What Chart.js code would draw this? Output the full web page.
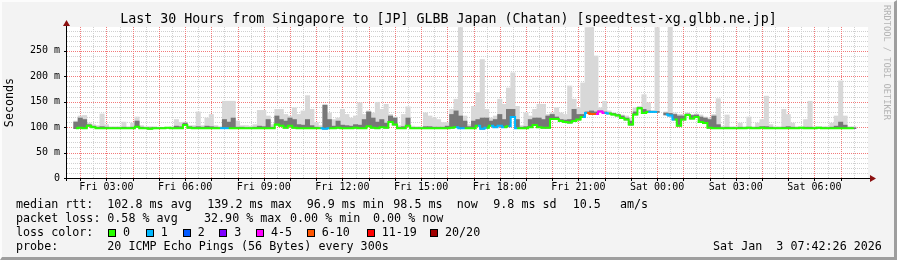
<!DOCTYPE html>
<html>
<head>
<meta charset="utf-8">
<script src="https://cdn.jsdelivr.net/npm/chart.js@4/dist/chart.umd.min.js"></script>
<style>
body { margin: 0; background: #fff; }
#wrap { position: relative; width: 897px; height: 260px; background: #f3f3f3; overflow: hidden; }
#chart { position: absolute; left: 0; top: 0; }
#frame { position: absolute; left: 0; top: 0; width: 897px; height: 260px; box-sizing: border-box;
  border-top: 2px solid #fcfcfc; border-left: 2px solid #fcfcfc;
  border-right: 3px solid #9e9e9e; border-bottom: 3px solid #9e9e9e; pointer-events: none; }
#title { position: absolute; left: 0; top: 12px; width: 897px; text-align: center;
  font: 13.3px 'DejaVu Sans Mono', monospace; line-height: 14px; white-space: pre; color: #000; }
#brand { position: absolute; left: 882px; top: 5px; writing-mode: vertical-rl;
  font: 8.7px 'DejaVu Sans Mono', monospace; line-height: 10px; color: #b4b4b4; white-space: pre; }
.t { position: absolute; font: 11.7px 'DejaVu Sans Mono', monospace; line-height: 14px; white-space: pre; color: #000; }
.sq { position: absolute; top: 228.5px; width: 6px; height: 6px; border: 1px solid #000; }
</style>
</head>
<body>
<div id="wrap">
  <canvas id="chart" width="897" height="260"></canvas>
  <div id="title">Last 30 Hours from Singapore to [JP] GLBB Japan (Chatan) [speedtest-xg.glbb.ne.jp]</div>
  <div id="brand">RRDTOOL / TOBI OETIKER</div>

  <div class="t" style="left:16px;top:196.7px">median rtt:</div>
  <div class="t" style="left:107.3px;top:196.7px">102.8 ms avg</div>
  <div class="t" style="left:207.3px;top:196.7px">139.2 ms max</div>
  <div class="t" style="left:306.7px;top:196.7px">96.9 ms min</div>
  <div class="t" style="left:393.3px;top:196.7px">98.5 ms</div>
  <div class="t" style="left:456.7px;top:196.7px">now</div>
  <div class="t" style="left:493.3px;top:196.7px">9.8 ms sd</div>
  <div class="t" style="left:572.7px;top:196.7px">10.5</div>
  <div class="t" style="left:620px;top:196.7px">am/s</div>

  <div class="t" style="left:16px;top:210.7px">packet loss:</div>
  <div class="t" style="left:107.3px;top:210.7px">0.58 % avg</div>
  <div class="t" style="left:204px;top:210.7px">32.90 % max</div>
  <div class="t" style="left:290px;top:210.7px">0.00 % min</div>
  <div class="t" style="left:373px;top:210.7px">0.00 % now</div>

  <div class="t" style="left:16px;top:224.7px">loss color:</div>
  <div id="lossKey"></div>

  <div class="t" style="left:16px;top:238.7px">probe:</div>
  <div class="t" style="left:107.3px;top:238.7px">20 ICMP Echo Pings (56 Bytes) every 300s</div>
  <div class="t" style="left:713px;top:238.7px">Sat Jan  3 07:42:26 2026</div>

  <div id="frame"></div>
</div>
<script>
// 10 minute slots, 30 hours starting Fri 01:45 (180 slots)
const slotsPerHour = 6;

// median rtt (ms)
const med = [
  98, 99, 98, 103, 100, 98, 98, 98, 98, 98, 98, 98,
  98, 98, 101, 98, 98, 97, 98, 98, 98, 99, 98, 98,
  98, 104, 99, 98, 98, 98, 98, 98, 98, 98, 98, 98,
  98, 98, 98, 98, 98, 98, 98, 98, 98, 98, 105, 103,
  99, 103, 99, 98, 98, 98, 98, 98, 98, 97, 98, 98,
  99, 98, 98, 98, 99, 98, 98, 102, 99, 98, 100, 99,
  110, 105, 98, 98, 103, 98, 98, 98, 98, 98, 98, 98,
  98, 98, 99, 100, 98, 98, 98, 98, 103, 97, 99, 103,
  100, 103, 100, 102, 120, 98, 98, 98, 100, 104, 100, 99,
  99, 116, 116, 112, 110, 109, 112, 115, 120, 128, 126, 126,
  131, 128, 127, 125, 123, 118, 115, 105, 125, 137, 128, 130,
  130, 130, null, 125, 123, 115, 103, 115, 124, 117, 120, 110,
  108, 99, 98, 98, 98, 98, 98, 98, 98, 98, 99, 98,
  98, 99, 98, 98, 98, 98, 98, 98, 98, 98, 99, 98,
  98, 98, 99, 98, 98, 98, 98, 98, 98, 98, 98, null
];

// top of the dark smoke (ms)
const darkTop = [
  110, 118, 115, 105, 102, 100, 101, 100, 99, 99, 99, 100,
  99, 100, 112, 100, 99, 99, 99, 99, 99, 99, 99, 102,
  101, 108, 101, 100, 101, 100, 102, 101, 100, 99, 115, 110,
  118, 100, 100, 99, 99, 100, 102, 101, 115, 100, 122, 115,
  112, 118, 115, 105, 104, 115, 103, 100, 99, 143, 115, 102,
  112, 104, 103, 102, 105, 104, 115, 130, 118, 110, 115, 108,
  122, 118, 100, 101, 118, 99, 99, 99, 101, 101, 100, 100,
  100, 102, 125, 132, 122, 112, 101, 112, 115, 118, 118, 112,
  115, 125, 115, 135, 135, 115, 100, 101, 115, 118, 118, 115,
  122, 125, 120, 115, 114, 115, 135, 125, 125, 130, 132, 130,
  132, 130, 128, 127, 125, 122, 118, 112, 130, 139, 135, 132,
  131, 131, null, 128, 127, 125, 122, 122, 126, 123, 124, 120,
  118, 115, 122, 105, 99, 100, 99, 99, 100, 99, 100, 99,
  100, 101, 101, 100, 99, 99, 100, 101, 100, 99, 99, 100,
  100, 99, 99, 99, 99, 100, 102, 110, 104, 99, 99, null
];

// top of the light smoke (ms)
const lightTop = [
  112, 122, 123, 108, 105, 103, 126, 105, 101, 101, 101, 110,
  101, 108, 120, 103, 101, 101, 101, 100, 100, 100, 101, 115,
  109, 110, 103, 103, 130, 103, 118, 125, 103, 101, 151, 151,
  151, 112, 103, 103, 102, 105, 133, 133, 122, 105, 135, 135,
  125, 122, 138, 125, 132, 162, 135, 109, 103, 145, 128, 115,
  118, 135, 125, 118, 122, 148, 125, 132, 128, 149, 135, 145,
  125, 120, 103, 125, 140, 102, 101, 101, 128, 122, 118, 115,
  109, 109, 135, 155, 296, 122, 105, 141, 168, 233, 135, 118,
  122, 155, 145, 177, 207, 141, 103, 128, 122, 135, 145, 145,
  125, 128, 138, 128, 125, 181, 155, 138, 187, 296, 296, 240,
  138, 151, 132, 128, 126, 124, 122, 118, 138, 141, 164, 148,
  133, 296, null, 130, 299, 128, 125, 125, 128, 125, 126, 124,
  120, 118, 125, 156, 102, 124, 101, 101, 108, 101, 120, 101,
  108, 115, 161, 105, 101, 101, 135, 125, 108, 101, 101, 115,
  151, 101, 101, 101, 101, 108, 122, 191, 122, 101, 101, null
];

// lost pings out of 20
const loss = [
  0, 0, 0, 0, 0, 0, 0, 0, 0, 0, 0, 0,
  0, 0, 0, 0, 0, 0, 0, 0, 0, 0, 0, 0,
  0, 0, 0, 0, 0, 0, 0, 0, 0, 0, 1, 0,
  0, 0, 0, 0, 0, 0, 0, 0, 0, 0, 0, 0,
  0, 0, 0, 0, 0, 0, 0, 0, 0, 1, 0, 0,
  0, 0, 0, 0, 0, 0, 0, 0, 0, 0, 0, 0,
  0, 0, 0, 0, 0, 0, 0, 0, 0, 0, 0, 0,
  0, 0, 0, 0, 1, 0, 0, 0, 0, 1, 0, 0,
  1, 1, 0, 0, 1, 0, 0, 0, 0, 0, 0, 0,
  0, 0, 0, 0, 0, 0, 0, 0, 0, 1, 7, 4,
  4, 1, 0, 0, 0, 0, 0, 0, 0, 0, 0, 0,
  1, 1, 0, 0, 1, 0, 0, 0, 0, 0, 0, 0,
  0, 0, 0, 0, 0, 0, 0, 0, 0, 0, 0, 0,
  0, 0, 0, 0, 0, 0, 0, 0, 0, 0, 0, 0,
  0, 0, 0, 0, 0, 0, 0, 0, 0, 0, 0, 0
];

const xLabels = ['Fri 03:00', 'Fri 06:00', 'Fri 09:00', 'Fri 12:00', 'Fri 15:00',
                 'Fri 18:00', 'Fri 21:00', 'Sat 00:00', 'Sat 03:00', 'Sat 06:00'];
const yLabels = ['0', '50 m', '100 m', '150 m', '200 m', '250 m'];

const lossNames = ['0', '1', '2', '3', '4-5', '6-10', '11-19', '20/20'];
const lossColors = ['#26ff00', '#00b8ff', '#0059ff', '#7e00ff', '#ff00ff', '#ff5500', '#ff0000', '#a10000'];
const keySquareX = [108, 145.7, 182.7, 219.3, 256, 306.7, 366.7, 430];

function lossColor(n) {
    if (n >= 20) return lossColors[7];
    if (n >= 11) return lossColors[6];
    if (n >= 6) return lossColors[5];
    if (n >= 4) return lossColors[4];
    return lossColors[n];
}

// legend squares
const key = document.getElementById('lossKey');
lossNames.forEach((name, i) => {
    const sq = document.createElement('div');
    sq.className = 'sq';
    sq.style.left = keySquareX[i] + 'px';
    sq.style.background = lossColors[i];
    key.appendChild(sq);
    const lab = document.createElement('div');
    lab.className = 't';
    lab.style.left = (keySquareX[i] + 15) + 'px';
    lab.style.top = '224.7px';
    lab.textContent = name;
    key.appendChild(lab);
});

const slotX = i => (i + 0.5) / slotsPerHour;
const lightBars = [];
const darkBars = [];
med.forEach((m, i) => {
    if (m == null) return;
    lightBars.push({ x: slotX(i), y: [m - 1, lightTop[i]] });
    darkBars.push({ x: slotX(i), y: [m - 1, darkTop[i]] });
});
const medPoints = med.map((m, i) => ({ x: slotX(i), y: m }));

const xTicks = [];
for (let v = 0.25; v < 30; v += 0.5) xTicks.push(v);
const yTicks = [];
for (let v = 0; v <= 290; v += 10) yTicks.push(v);

const isHour = v => Math.abs((v - 0.25) - Math.round(v - 0.25)) < 1e-6;
const isMajorY = v => Math.abs(v / 50 - Math.round(v / 50)) < 1e-6;
const mono = "'DejaVu Sans Mono'";
const majorGrid = '#f27a7a';
const minorGrid = '#d0d0d0';

// rrdtool style dotted grid, plus axes with arrows
const axes = {
    id: 'axes',
    beforeDraw(chart) {
        const { ctx, chartArea: a } = chart;
        ctx.save();
        ctx.fillStyle = '#fff';
        ctx.fillRect(a.left, a.top, a.right - a.left + 1, a.bottom - a.top);
        ctx.restore();
    },
    beforeDatasetsDraw(chart) {
        const { ctx, chartArea: a, scales: { x, y } } = chart;
        ctx.save();
        ctx.lineWidth = 1;
        ctx.setLineDash([1, 1]);
        [false, true].forEach(major => {
            ctx.strokeStyle = major ? majorGrid : minorGrid;
            ctx.beginPath();
            xTicks.forEach(v => {
                if (isHour(v) !== major) return;
                const px = Math.round(x.getPixelForValue(v)) + 0.5;
                ctx.moveTo(px, a.bottom);
                ctx.lineTo(px, a.top);
            });
            yTicks.forEach(v => {
                if (v === 0 || isMajorY(v) !== major) return;
                const py = Math.round(y.getPixelForValue(v)) + 0.5;
                ctx.moveTo(a.left, py);
                ctx.lineTo(a.right + 1, py);
            });
            ctx.stroke();
        });
        ctx.restore();
    },
    afterDraw(chart) {
        const { ctx, chartArea: a, scales: { x, y } } = chart;
        ctx.save();
        ctx.strokeStyle = '#000';
        ctx.lineWidth = 1;
        ctx.beginPath();
        ctx.moveTo(a.left - 3, a.bottom + 0.5);
        ctx.lineTo(a.right + 5, a.bottom + 0.5);
        ctx.moveTo(a.left - 0.5, a.bottom + 3);
        ctx.lineTo(a.left - 0.5, a.top - 3);
        xTicks.forEach(v => {
            if (!isHour(v)) return;
            const px = Math.round(x.getPixelForValue(v)) + 0.5;
            ctx.moveTo(px, a.bottom);
            ctx.lineTo(px, a.bottom + 3);
        });
        yTicks.forEach(v => {
            if (!isMajorY(v)) return;
            const py = Math.round(y.getPixelForValue(v)) + 0.5;
            ctx.moveTo(a.left - 3, py);
            ctx.lineTo(a.left, py);
        });
        ctx.stroke();
        ctx.fillStyle = '#8b1010';
        ctx.beginPath();
        ctx.moveTo(a.right + 9, a.bottom + 0.5);
        ctx.lineTo(a.right + 3, a.bottom - 3);
        ctx.lineTo(a.right + 3, a.bottom + 4);
        ctx.closePath();
        ctx.fill();
        ctx.beginPath();
        ctx.moveTo(a.left - 0.5, a.top - 7);
        ctx.lineTo(a.left - 4, a.top - 1);
        ctx.lineTo(a.left + 3, a.top - 1);
        ctx.closePath();
        ctx.fill();
        ctx.restore();
    }
};

new Chart(document.getElementById('chart').getContext('2d'), {
    type: 'line',
    data: {
        datasets: [
            {
                type: 'line',
                data: medPoints,
                borderWidth: 2,
                borderColor: lossColors[0],
                pointRadius: 0,
                stepped: 'middle',
                spanGaps: false,
                segment: {
                    borderColor: c => lossColor(Math.max(loss[c.p0DataIndex], loss[c.p1DataIndex]))
                },
                order: 0
            },
            {
                type: 'bar',
                data: darkBars,
                backgroundColor: '#777777',
                grouped: false,
                barPercentage: 1,
                categoryPercentage: 1,
                borderWidth: 0,
                order: 1
            },
            {
                type: 'bar',
                data: lightBars,
                backgroundColor: '#d8d8d8',
                grouped: false,
                barPercentage: 1,
                categoryPercentage: 1,
                borderWidth: 0,
                order: 2
            }
        ]
    },
    options: {
        responsive: false,
        animation: false,
        layout: { padding: { top: 27, right: 30, left: 0, bottom: 0 } },
        plugins: {
            legend: { display: false },
            tooltip: { enabled: false },
            title: { display: false }
        },
        scales: {
            x: {
                type: 'linear',
                min: 0,
                max: 30,
                afterBuildTicks: s => { s.ticks = xTicks.map(v => ({ value: v })); },
                afterFit: s => { s.height = 82; },
                ticks: {
                    autoSkip: false,
                    maxRotation: 0,
                    padding: 3,
                    color: '#000',
                    font: { family: mono, size: 10 },
                    callback: v => xLabels[(v - 1.25) / 3] ?? ''
                },
                grid: { drawOnChartArea: false, drawTicks: false },
                border: { display: false }
            },
            y: {
                min: 0,
                max: 297,
                afterBuildTicks: s => { s.ticks = yTicks.map(v => ({ value: v })); },
                afterFit: s => { s.width = 67; },
                ticks: {
                    autoSkip: false,
                    padding: 7,
                    color: '#000',
                    font: { family: mono, size: 10 },
                    callback: v => isMajorY(v) ? yLabels[Math.round(v / 50)] : ''
                },
                grid: { drawOnChartArea: false, drawTicks: false },
                border: { display: false },
                title: {
                    display: true,
                    text: 'Seconds',
                    color: '#000',
                    font: { family: mono, size: 11.7 },
                    padding: { top: 3, bottom: 0 }
                }
            }
        }
    },
    plugins: [axes]
});
</script>
</body>
</html>
